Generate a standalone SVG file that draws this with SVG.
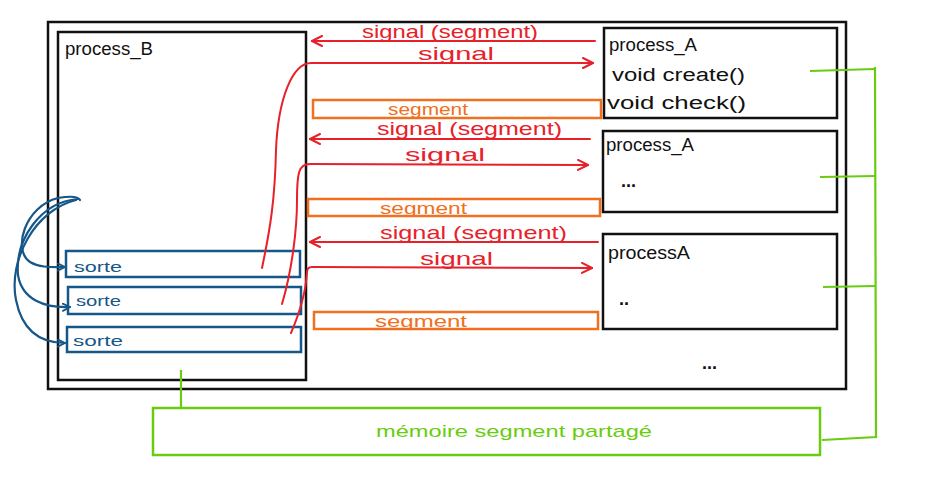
<svg xmlns="http://www.w3.org/2000/svg" width="926" height="480" viewBox="0 0 926 480">
<defs>
<marker id="ar" viewBox="0 0 12 12" refX="11" refY="6" markerWidth="12" markerHeight="12" markerUnits="userSpaceOnUse" orient="auto">
<path d="M1,1 L11,6 L1,11" fill="none" stroke="#e8202a" stroke-width="2" stroke-linecap="round" stroke-linejoin="round"/>
</marker>
<marker id="ab" viewBox="0 0 10 10" refX="9" refY="5" markerWidth="9" markerHeight="9" markerUnits="userSpaceOnUse" orient="auto">
<path d="M1,1 L9,5 L1,9" fill="none" stroke="#16578a" stroke-width="2" stroke-linecap="round" stroke-linejoin="round"/>
</marker>
</defs>
<style>
text{font-family:"Liberation Sans","DejaVu Sans",sans-serif;}
.box{fill:none;stroke:#111;stroke-width:2.5;}
.bk{fill:#111;font-size:18px;}
.dots{fill:#111;font-size:18px;font-weight:bold;}
.red{fill:#e8202a;font-size:19px;}
.or{fill:#f07020;font-size:16px;}
.gr{fill:#6acc10;font-size:17px;}
.bl{fill:#16578a;font-size:15px;}
.rl{fill:none;stroke:#e8202a;stroke-width:2;stroke-linecap:round;}
.seg{fill:none;stroke:#f07020;stroke-width:2.5;}
.blbox{fill:none;stroke:#16578a;stroke-width:2.5;}
.bll{fill:none;stroke:#16578a;stroke-width:2.2;stroke-linecap:round;}
.gl{fill:none;stroke:#6acc10;stroke-width:2.2;}
</style>
<rect x="0" y="0" width="926" height="480" fill="#fff"/>
<g id="outer"><rect class="box" x="48" y="22" width="798" height="367"/></g>
<g id="process_B">
<rect class="box" x="58" y="32" width="248" height="348"/>
<text class="bk" x="65" y="55" textLength="88" lengthAdjust="spacingAndGlyphs">process_B</text>
</g>
<g id="sorte1"><rect class="blbox" x="66" y="251" width="234" height="26"/><text class="bl" x="74" y="272" textLength="48" lengthAdjust="spacingAndGlyphs">sorte</text></g>
<g id="sorte2"><rect class="blbox" x="68" y="287" width="233" height="27"/><text class="bl" x="76" y="306" textLength="45" lengthAdjust="spacingAndGlyphs">sorte</text></g>
<g id="sorte3"><rect class="blbox" x="67" y="327" width="234" height="25"/><text class="bl" x="73" y="346" textLength="50" lengthAdjust="spacingAndGlyphs">sorte</text></g>
<g id="process_A1">
<rect class="box" x="604" y="28" width="233" height="90"/>
<text class="bk" x="609" y="51" textLength="88" lengthAdjust="spacingAndGlyphs">process_A</text>
<text class="bk" x="612" y="81" textLength="133" lengthAdjust="spacingAndGlyphs">void create()</text>
<text class="bk" x="607" y="109" textLength="139" lengthAdjust="spacingAndGlyphs">void check()</text>
</g>
<g id="process_A2">
<rect class="box" x="603" y="131" width="234" height="81"/>
<text class="bk" x="606" y="151" textLength="88" lengthAdjust="spacingAndGlyphs">process_A</text>
<text class="dots" x="621" y="187">...</text>
</g>
<g id="process_A3">
<rect class="box" x="603" y="234" width="234" height="95"/>
<text class="bk" x="608" y="259" textLength="82" lengthAdjust="spacingAndGlyphs">processA</text>
<text class="dots" x="619" y="305">..</text>
</g>
<text class="dots" x="702" y="369">...</text>
<g id="seg1"><rect class="seg" x="313" y="100" width="288" height="18"/><text class="or" x="388" y="115" textLength="80" lengthAdjust="spacingAndGlyphs">segment</text></g>
<g id="seg2"><rect class="seg" x="308" y="199" width="292" height="17"/><text class="or" x="380" y="214" textLength="87" lengthAdjust="spacingAndGlyphs">segment</text></g>
<g id="seg3"><rect class="seg" x="314" y="312" width="284" height="17"/><text class="or" x="375" y="327" textLength="92" lengthAdjust="spacingAndGlyphs">segment</text></g>
<g id="memoire">
<rect fill="none" stroke="#6acc10" stroke-width="2.5" x="153" y="408" width="667" height="47"/>
<text class="gr" x="376" y="437" textLength="276" lengthAdjust="spacingAndGlyphs">mémoire segment partagé</text>
</g>
<g id="connectors">
<path class="rl" d="M595,41 L312,41" marker-end="url(#ar)"/>
<path class="rl" d="M262,268 C270,230 275,200 276,150 C278,100 292,62 312,63 L593,63" marker-end="url(#ar)"/>
<path class="rl" d="M590,139 L310,139" marker-end="url(#ar)"/>
<path class="rl" d="M282,304 C292,270 297,230 297,200 C297,172 299,164 310,164 L588,165" marker-end="url(#ar)"/>
<path class="rl" d="M598,242 L310,242" marker-end="url(#ar)"/>
<path class="rl" d="M291,333 C300,312 306,290 307,272 C307,268 309,267 312,267 L592,268" marker-end="url(#ar)"/>
<path class="bll" d="M80,200 C78,196 70,196 58,198 C25,206 12,250 30,262 C40,268 52,267 65,267" marker-end="url(#ab)"/>
<path class="bll" d="M78,199 C40,202 15,240 18,275 C22,300 45,308 70,307" marker-end="url(#ab)"/>
<path class="bll" d="M76,200 C35,210 8,260 16,300 C22,330 40,343 65,343" marker-end="url(#ab)"/>
<path class="gl" d="M810,71 L875,69"/>
<path class="gl" d="M820,177 L875,176"/>
<path class="gl" d="M823,287 L875,286"/>
<path class="gl" d="M875,67 L876,437 L822,440"/>
<path class="gl" d="M181,370 L181,408"/>
</g>
<g id="labels">
<text class="red" x="362" y="38" textLength="176" lengthAdjust="spacingAndGlyphs">signal (segment)</text>
<text class="red" x="418" y="60" textLength="76" lengthAdjust="spacingAndGlyphs">signal</text>
<text class="red" x="377" y="135" textLength="185" lengthAdjust="spacingAndGlyphs">signal (segment)</text>
<text class="red" x="405" y="161" textLength="80" lengthAdjust="spacingAndGlyphs">signal</text>
<text class="red" x="380" y="239" textLength="187" lengthAdjust="spacingAndGlyphs">signal (segment)</text>
<text class="red" x="420" y="265" textLength="73" lengthAdjust="spacingAndGlyphs">signal</text>
</g>
</svg>
